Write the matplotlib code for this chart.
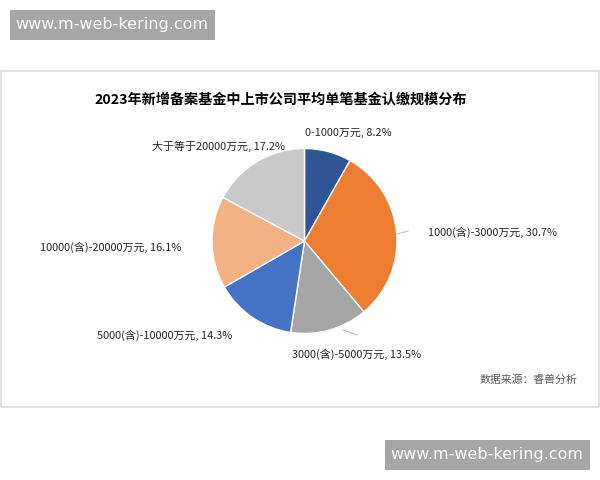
import matplotlib
matplotlib.use("Agg")
import matplotlib.pyplot as plt
from matplotlib.patches import Rectangle

plt.rcParams['font.family'] = ['Noto Sans CJK SC', 'DejaVu Sans']

title = "2023年新增备案基金中上市公司平均单笔基金认缴规模分布"
categories = ["0-1000万元", "1000(含)-3000万元", "3000(含)-5000万元",
              "5000(含)-10000万元", "10000(含)-20000万元", "大于等于20000万元"]
values = [8.2, 30.7, 13.5, 14.3, 16.1, 17.2]
colors = ["#2f5597", "#ed7d31", "#a5a5a5", "#4472c4", "#f4b183", "#c9c9c9"]
source = "数据来源：睿兽分析"
watermark = "www.m-web-kering.com"

W, H = 600, 480
fig = plt.figure(figsize=(6, 4.8), dpi=100)
fig.patch.set_facecolor("white")

def px(x, y):
    return x / W, 1 - y / H

# panel border
fig.patches.append(Rectangle(px(0.5, 407), 598.5 / W, 336 / H, transform=fig.transFigure,
                             fill=False, edgecolor="#dcdcdc", linewidth=1.2))
# watermarks
fig.patches.append(Rectangle(px(10, 40), 205 / W, 30 / H, transform=fig.transFigure,
                             facecolor="#a6a6a6", edgecolor="none"))
fig.text(*px(112, 25), watermark, color="white", fontsize=11.5, ha="center", va="center",
         family="DejaVu Sans")
fig.patches.append(Rectangle(px(385, 470), 205 / W, 30 / H, transform=fig.transFigure,
                             facecolor="#a6a6a6", edgecolor="none"))
fig.text(*px(487, 455), watermark, color="white", fontsize=11.5, ha="center", va="center",
         family="DejaVu Sans")

# pie
cx, cy, r = 304.5, 241, 92.5
ax = fig.add_axes([(cx - r) / W, (H - cy - r) / H, 2 * r / W, 2 * r / H])
ax.pie(values, colors=colors, startangle=90, counterclock=False,
       wedgeprops=dict(edgecolor="white", linewidth=1.0))
ax.set_xlim(-1.0, 1.0)
ax.set_ylim(-1.0, 1.0)
ax.set_aspect("equal")
ax.axis("off")

# title
fig.text(*px(281, 100), title, fontsize=10.2, fontweight="bold", ha="center", va="center",
         color="#000000")

# labels
label_pos = [(305, 133, "left"), (428, 232, "left"), (292, 354, "left"),
             (97, 335, "left"), (40, 247, "left"), (285, 146, "right")]
for (x, y, ha), c, v in zip(label_pos, categories, values):
    fig.text(*px(x, y), f"{c}, {v}%", fontsize=7.9, ha=ha, va="center", color="#262626")

# leader lines
fig.add_artist(plt.Line2D([397 / W, 408 / W], [1 - 234 / H, 1 - 231 / H], color="#bfbfbf", lw=0.8))
fig.add_artist(plt.Line2D([343 / W, 357 / W], [1 - 330 / H, 1 - 335 / H], color="#bfbfbf", lw=0.8))

fig.text(*px(577, 380), source, fontsize=7.8, ha="right", va="center", color="#595959")

fig.savefig("out.png", dpi=100, facecolor="white")
